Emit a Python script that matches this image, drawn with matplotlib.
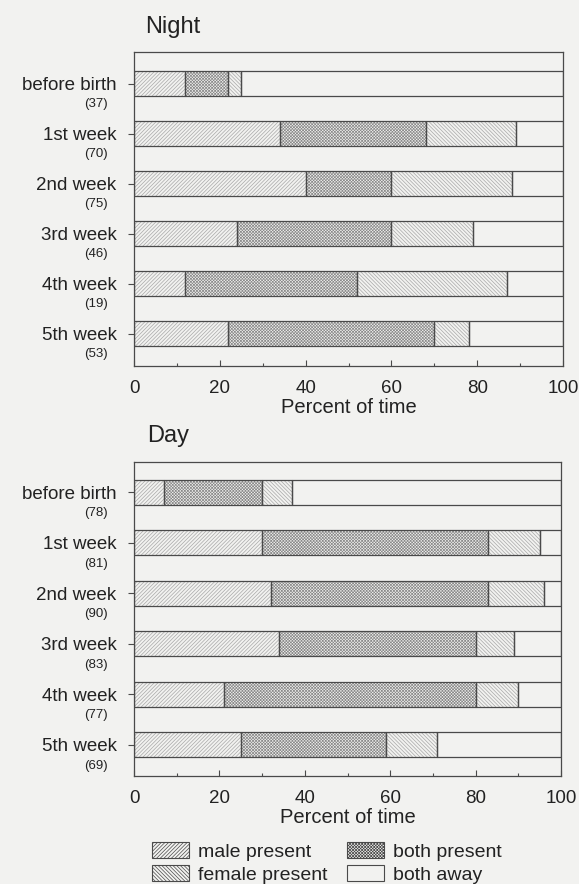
import matplotlib
matplotlib.use("Agg")
import matplotlib.pyplot as plt
from matplotlib.patches import Patch
import matplotlib.transforms as mtransforms

# --- data (percent of time) ---
periods = ["before birth", "1st week", "2nd week", "3rd week", "4th week", "5th week"]

night_n = [37, 70, 75, 46, 19, 53]
night_male = [12, 34, 40, 24, 12, 22]
night_both = [10, 34, 20, 36, 40, 48]
night_female = [3, 21, 28, 19, 35, 8]

day_n = [78, 81, 90, 83, 77, 69]
day_male = [7, 30, 32, 34, 21, 25]
day_both = [23, 53, 51, 46, 59, 34]
day_female = [7, 12, 13, 9, 10, 12]

BG = "#f2f2f0"
EDGE = "#4a4a4a"
TXT = "#222222"
H_MALE = "/" * 9
H_FEM = "\\" * 9
H_BOTH = "x" * 11

plt.rcParams["font.family"] = ["Liberation Sans", "DejaVu Sans"]
plt.rcParams["hatch.linewidth"] = 0.5
plt.rcParams["text.color"] = TXT
plt.rcParams["xtick.labelcolor"] = TXT
plt.rcParams["ytick.labelcolor"] = TXT
plt.rcParams["axes.labelcolor"] = TXT

fig = plt.figure(figsize=(5.79, 8.84), dpi=100)
fig.patch.set_facecolor(BG)

W, H = 579, 884


def panel(rect, ylim, n, male, both, female, title, title_xy):
    ax = fig.add_axes(rect)
    ax.set_facecolor(BG)
    ypos = list(range(len(periods)))
    left_both = [m for m in male]
    left_fem = [m + b for m, b in zip(male, both)]
    left_away = [m + b + f for m, b, f in zip(male, both, female)]
    away = [100 - v for v in left_away]

    # hatch layers
    ax.barh(ypos, male, height=0.5, color=BG, edgecolor="#a8a8a8", hatch=H_MALE, lw=0)
    ax.barh(ypos, both, left=left_both, height=0.5, color=BG, edgecolor="#8a8a8a", hatch=H_BOTH, lw=0)
    ax.barh(ypos, female, left=left_fem, height=0.5, color=BG, edgecolor="#a8a8a8", hatch=H_FEM, lw=0)
    ax.barh(ypos, away, left=left_away, height=0.5, color=BG, lw=0)
    # outlines
    for vals, lefts in [(male, [0] * len(male)), (both, left_both), (female, left_fem), (away, left_away)]:
        ax.barh(ypos, vals, left=lefts, height=0.5, fill=False, edgecolor=EDGE, lw=0.9)

    ax.set_xlim(0, 100)
    ax.set_ylim(*ylim)
    ax.set_xticks(range(0, 101, 20))
    ax.set_xticks(range(10, 100, 20), minor=True)
    ax.tick_params(axis="x", which="major", direction="in", length=4, width=0.8,
                   labelsize=13.5, pad=10, color=EDGE)
    ax.tick_params(axis="x", which="minor", direction="in", length=2.5, width=0.8, color=EDGE)
    ax.set_yticks(ypos)
    ax.set_yticklabels(periods)
    ax.tick_params(axis="y", direction="out", length=4.5, width=0.8, labelsize=13.5, pad=8, color=EDGE)
    for s in ax.spines.values():
        s.set_color(EDGE)
        s.set_linewidth(0.9)
    ax.set_xlabel("Percent of time", fontsize=14.5, labelpad=1)

    trans = mtransforms.blended_transform_factory(ax.transAxes, ax.transData)
    for y, v in zip(ypos, n):
        ax.annotate(f"({v})", xy=(0, y), xycoords=trans, xytext=(-26, -21),
                    textcoords="offset pixels", ha="right", va="center",
                    fontsize=9.5, color=TXT)

    fig.text(title_xy[0] / W, 1 - title_xy[1] / H, title, fontsize=17,
             ha="left", va="baseline", color=TXT)
    return ax


panel([134 / W, 1 - 366 / H, (563 - 134) / W, 314 / H], (5.65, -0.63),
      night_n, night_male, night_both, night_female, "Night", (145, 33))
panel([134 / W, 1 - 776 / H, (561 - 134) / W, 314 / H], (5.62, -0.6),
      day_n, day_male, day_both, day_female, "Day", (147, 442))

handles = [
    Patch(facecolor=BG, edgecolor=EDGE, hatch=H_MALE, lw=0.8, label="male present"),
    Patch(facecolor=BG, edgecolor=EDGE, hatch=H_FEM, lw=0.8, label="female present"),
    Patch(facecolor=BG, edgecolor=EDGE, hatch=H_BOTH, lw=0.8, label="both present"),
    Patch(facecolor=BG, edgecolor=EDGE, lw=0.8, label="both away"),
]
fig.legend(handles=handles, loc="center", bbox_to_anchor=(327 / W, 1 - 863 / H),
           ncol=2, frameon=False, fontsize=14, handlelength=1.9, handleheight=0.85,
           handletextpad=0.45, columnspacing=1.0, labelspacing=0.25, borderpad=0)

fig.savefig("out.png", dpi=100, facecolor=BG)
